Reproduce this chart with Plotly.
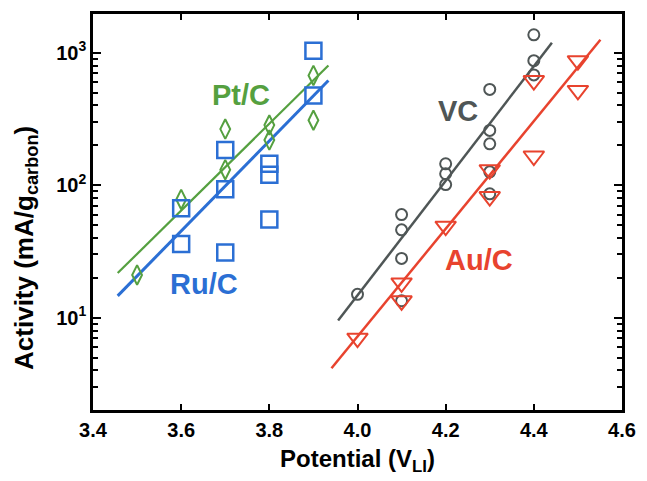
import plotly.graph_objects as go

# ---- data ----
pt_x = [3.5, 3.6, 3.7, 3.7, 3.8, 3.8, 3.9, 3.9]
pt_y = [21, 78, 265, 131, 284, 219, 673, 309]

ru_x = [3.6, 3.6, 3.7, 3.7, 3.7, 3.8, 3.8, 3.8, 3.9, 3.9]
ru_y = [67, 36, 184, 93, 31, 145, 120, 55, 1035, 476]

vc_x = [4.0, 4.1, 4.1, 4.1, 4.1, 4.2, 4.2, 4.2, 4.3, 4.3, 4.3, 4.3, 4.3, 4.4, 4.4, 4.4]
vc_y = [15, 60, 46, 28, 13.4, 145, 122, 101, 528, 259, 205, 126, 86, 1365, 871, 680]

au_x = [4.0, 4.1, 4.1, 4.2, 4.3, 4.3, 4.4, 4.4, 4.5, 4.5]
au_y = [7.0, 18.3, 13.4, 49, 131, 82, 616, 166, 871, 519]

# fitted trend lines (end points)
pt_fit_x = [3.456, 3.934]
pt_fit_y = [21.7, 800]
ru_fit_x = [3.456, 3.934]
ru_fit_y = [14.6, 616]
vc_fit_x = [3.956, 4.441]
vc_fit_y = [9.5, 1189]
au_fit_x = [3.941, 4.551]
au_fit_y = [4.15, 1251]

x_ticks = [3.4, 3.6, 3.8, 4.0, 4.2, 4.4, 4.6]
x_ticklabels = ["3.4", "3.6", "3.8", "4.0", "4.2", "4.4", "4.6"]
y_ticks = [10, 100, 1000]
y_ticklabels = ["10<sup>1</sup>", "10<sup>2</sup>", "10<sup>3</sup>"]

GREEN = "#55a040"
BLUE = "#2b6fd4"
GRAY = "#4f5656"
RED = "#e8432e"
FONT = "Liberation Sans"

fig = go.Figure()

# fit lines
fig.add_trace(go.Scatter(x=pt_fit_x, y=pt_fit_y, mode="lines",
                         line=dict(color=GREEN, width=2.2), showlegend=False))
fig.add_trace(go.Scatter(x=ru_fit_x, y=ru_fit_y, mode="lines",
                         line=dict(color=BLUE, width=3), showlegend=False))
fig.add_trace(go.Scatter(x=vc_fit_x, y=vc_fit_y, mode="lines",
                         line=dict(color=GRAY, width=2.5), showlegend=False))
fig.add_trace(go.Scatter(x=au_fit_x, y=au_fit_y, mode="lines",
                         line=dict(color=RED, width=2.5), showlegend=False))

# markers
fig.add_trace(go.Scatter(x=pt_x, y=pt_y, mode="markers", showlegend=False,
                         marker=dict(symbol="diamond-tall-open", size=14, color=GREEN,
                                     line=dict(color=GREEN, width=2))))
fig.add_trace(go.Scatter(x=ru_x, y=ru_y, mode="markers", showlegend=False,
                         marker=dict(symbol="square-open", size=16, color=BLUE,
                                     line=dict(color=BLUE, width=2.5))))
fig.add_trace(go.Scatter(x=vc_x, y=vc_y, mode="markers", showlegend=False,
                         marker=dict(symbol="circle-open", size=11, color=GRAY,
                                     line=dict(color=GRAY, width=2))))
fig.add_trace(go.Scatter(x=au_x, y=au_y, mode="markers", showlegend=False,
                         marker=dict(symbol="triangle-down-open", size=18, color=RED,
                                     line=dict(color=RED, width=2))))

labels = [
    ("Pt/C", 3.735, 2.678, GREEN),
    ("Ru/C", 3.652, 1.255, BLUE),
    ("VC", 4.227, 2.558, GRAY),
    ("Au/C", 4.276, 1.434, RED),
]
for txt, lx, ly, col in labels:
    fig.add_annotation(x=lx, y=ly, xref="x", yref="y", text=txt, showarrow=False,
                       font=dict(family=FONT, size=29, color=col, weight="bold"),
                       xanchor="center", yanchor="middle")

# y-axis title as a rotated annotation (positioned to match the reference)
fig.add_annotation(x=-0.128, y=0.41, xref="paper", yref="paper",
                   text="Activity (mA/g<sub>carbon</sub>)", showarrow=False,
                   textangle=-90, xanchor="center", yanchor="middle",
                   font=dict(family=FONT, size=26, color="black", weight="bold"))

fig.update_layout(
    width=647, height=481,
    margin=dict(l=93, r=17, t=11, b=71),
    paper_bgcolor="white", plot_bgcolor="white",
    font=dict(family=FONT, color="black"),
)

fig.update_xaxes(
    range=[3.4, 4.6],
    tickvals=x_ticks, ticktext=x_ticklabels,
    ticks="inside", ticklen=6, tickwidth=2, tickcolor="black",
    showline=True, linewidth=2.5, linecolor="black", mirror="allticks",
    showgrid=False, zeroline=False,
    tickfont=dict(family=FONT, size=20, color="black", weight="bold"),
    title=dict(text="Potential (V<sub>LI</sub>)", standoff=11,
               font=dict(family=FONT, size=24, color="black", weight="bold")),
)

fig.update_yaxes(
    type="log", range=[0.303, 3.292],
    tickvals=y_ticks, ticktext=y_ticklabels,
    ticks="inside", ticklen=8, tickwidth=2, tickcolor="black",
    minor=dict(ticks="inside", ticklen=5, tickwidth=1.5, tickcolor="black", dtick="D1",
               showgrid=False),
    showline=True, linewidth=2.5, linecolor="black", mirror="allticks",
    showgrid=False, zeroline=False,
    tickfont=dict(family=FONT, size=20, color="black", weight="bold"),
)

fig.write_html("out.html")
